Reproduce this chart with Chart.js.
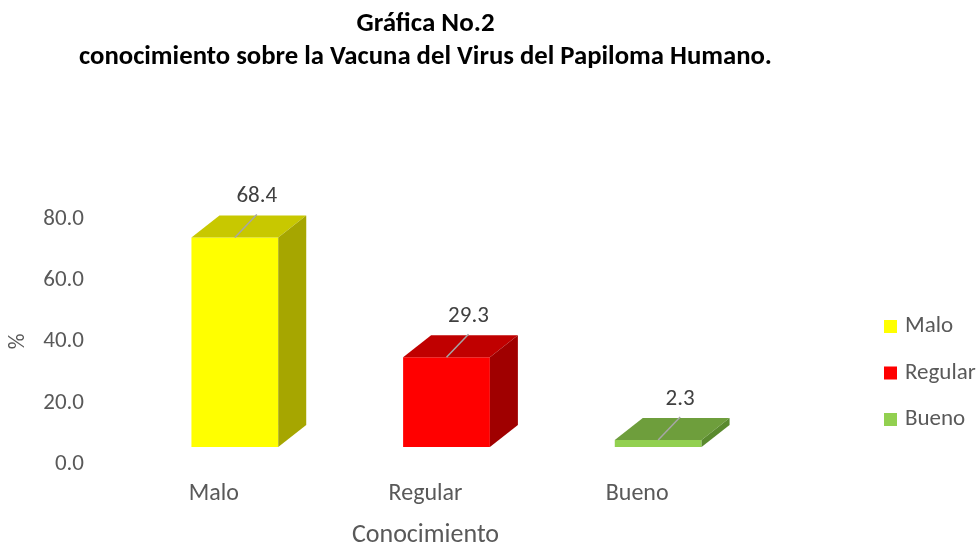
<!DOCTYPE html>
<html>
<head>
<meta charset="utf-8">
<script src="https://cdn.jsdelivr.net/npm/chart.js@4.4.0/dist/chart.umd.min.js"></script>
<style>
  html, body { margin: 0; padding: 0; background: #fff; }
  #contenedor { width: 978px; height: 543px; }
</style>
</head>
<body>
<div id="contenedor"><canvas id="grafica"></canvas></div>
<script>
  // datos de la grafica
  var categorias = ["Malo", "Regular", "Bueno"];
  var porcentajes = [68.4, 29.3, 2.3];
  var ticksY = [0, 20, 40, 60, 80];
  var titulo = ["Gráfica No.2", "conocimiento sobre la Vacuna del Virus del Papiloma Humano."];
  var tituloEjeX = "Conocimiento";
  var tituloEjeY = "%";

  // colores de cada cara del cubo
  var colorFrente = ["#FFFF00", "#FF0000", "#92D050"];
  var colorTapa = ["#C8C800", "#C00000", "#6E9E3C"];
  var colorLado = ["#A6A600", "#A00000", "#5A8A2E"];

  var fuente = 'Carlito, Lato, "Open Sans", sans-serif';
  var gris = "#595959";
  // desplazamiento de la cara frontal y profundidad del cubo
  var DX = 21, DY = -17;
  var PX = 28, PY = -22;

  Chart.defaults.font.family = fuente;

  var cubos3D = {
    id: "cubos3D",
    beforeDatasetsDraw: function(chart) {
      chart.ctx.save();
      chart.ctx.translate(DX, DY);
    },
    afterDatasetsDraw: function(chart) {
      var ctx = chart.ctx;
      var meta = chart.getDatasetMeta(0);
      meta.data.forEach(function(barra, i) {
        var p = barra.getProps(["x", "y", "base", "width"], true);
        var l = p.x - p.width / 2, r = p.x + p.width / 2;
        //tapa
        ctx.fillStyle = colorTapa[i];
        ctx.beginPath();
        ctx.moveTo(l, p.y);
        ctx.lineTo(r, p.y);
        ctx.lineTo(r + PX, p.y + PY);
        ctx.lineTo(l + PX, p.y + PY);
        ctx.closePath();
        ctx.fill();
        //lado
        ctx.fillStyle = colorLado[i];
        ctx.beginPath();
        ctx.moveTo(r, p.y);
        ctx.lineTo(r + PX, p.y + PY);
        ctx.lineTo(r + PX, p.base + PY);
        ctx.lineTo(r, p.base);
        ctx.closePath();
        ctx.fill();
        //linea guia y etiqueta
        ctx.strokeStyle = "#A6A6A6";
        ctx.lineWidth = 1.5;
        ctx.beginPath();
        ctx.moveTo(p.x, p.y);
        ctx.lineTo(p.x + 22, p.y - 23);
        ctx.stroke();
        ctx.fillStyle = "#404040";
        ctx.font = "23px " + fuente;
        ctx.textAlign = "center";
        ctx.textBaseline = "middle";
        ctx.fillText(porcentajes[i].toFixed(1), p.x + 22, p.y - 41);
      });
      ctx.restore();
    },
    afterDraw: function(chart) {
      var ctx = chart.ctx;
      var area = chart.chartArea;
      ctx.save();
      // titulo
      var cx = (area.left + area.right) / 2;
      ctx.fillStyle = "#000";
      ctx.font = "bold 27px " + fuente;
      ctx.textAlign = "center";
      ctx.textBaseline = "middle";
      ctx.fillText(titulo[0], cx, 24);
      ctx.fillText(titulo[1], cx, 57, 693);
      // leyenda
      ctx.font = "23px " + fuente;
      ctx.textAlign = "left";
      categorias.forEach(function(c, i) {
        var cy = 326.5 + i * 46.5;
        ctx.fillStyle = colorFrente[i];
        ctx.fillRect(884, cy - 6.5, 13, 13);
        ctx.fillStyle = gris;
        ctx.fillText(c, 905, cy);
      });
      ctx.restore();
    }
  };

  var ctxGrafica = document.getElementById("grafica").getContext("2d");
  var grafica = new Chart(ctxGrafica, {
    type: "bar",
    data: {
      labels: categorias,
      datasets: [
        {
          label: "%",
          data: porcentajes,
          backgroundColor: colorFrente,
          borderWidth: 0,
          categoryPercentage: 0.41,
          barPercentage: 1,
          clip: false
        }
      ]
    },
    options: {
      responsive: true,
      maintainAspectRatio: false,
      animation: false,
      layout: { padding: { top: 219, right: 235, bottom: 0, left: 0 } },
      plugins: {
        legend: { display: false },
        title: { display: false },
        tooltip: { enabled: false }
      },
      scales: {
        x: {
          grid: { display: false, drawTicks: false },
          border: { display: false },
          ticks: { color: gris, font: { size: 24 }, padding: 16 },
          title: { display: true, text: tituloEjeX, color: gris, font: { size: 26 }, padding: { top: 4, bottom: -8 } },
          afterFit: function(s) { s.height = 79; }
        },
        y: {
          min: 0,
          max: 80,
          grid: { display: false, drawTicks: false },
          border: { display: false },
          ticks: {
            color: gris,
            font: { size: 23 },
            padding: 24,
            callback: function(v) { return Number(v).toFixed(1); }
          },
          afterBuildTicks: function(s) {
            s.ticks = ticksY.map(function(v) { return { value: v }; });
          },
          title: { display: true, text: tituloEjeY, color: gris, font: { size: 22 }, padding: { top: 5, bottom: 0 } },
          afterFit: function(s) { s.width = 108; }
        }
      }
    },
    plugins: [cubos3D]
  });
</script>
</body>
</html>
